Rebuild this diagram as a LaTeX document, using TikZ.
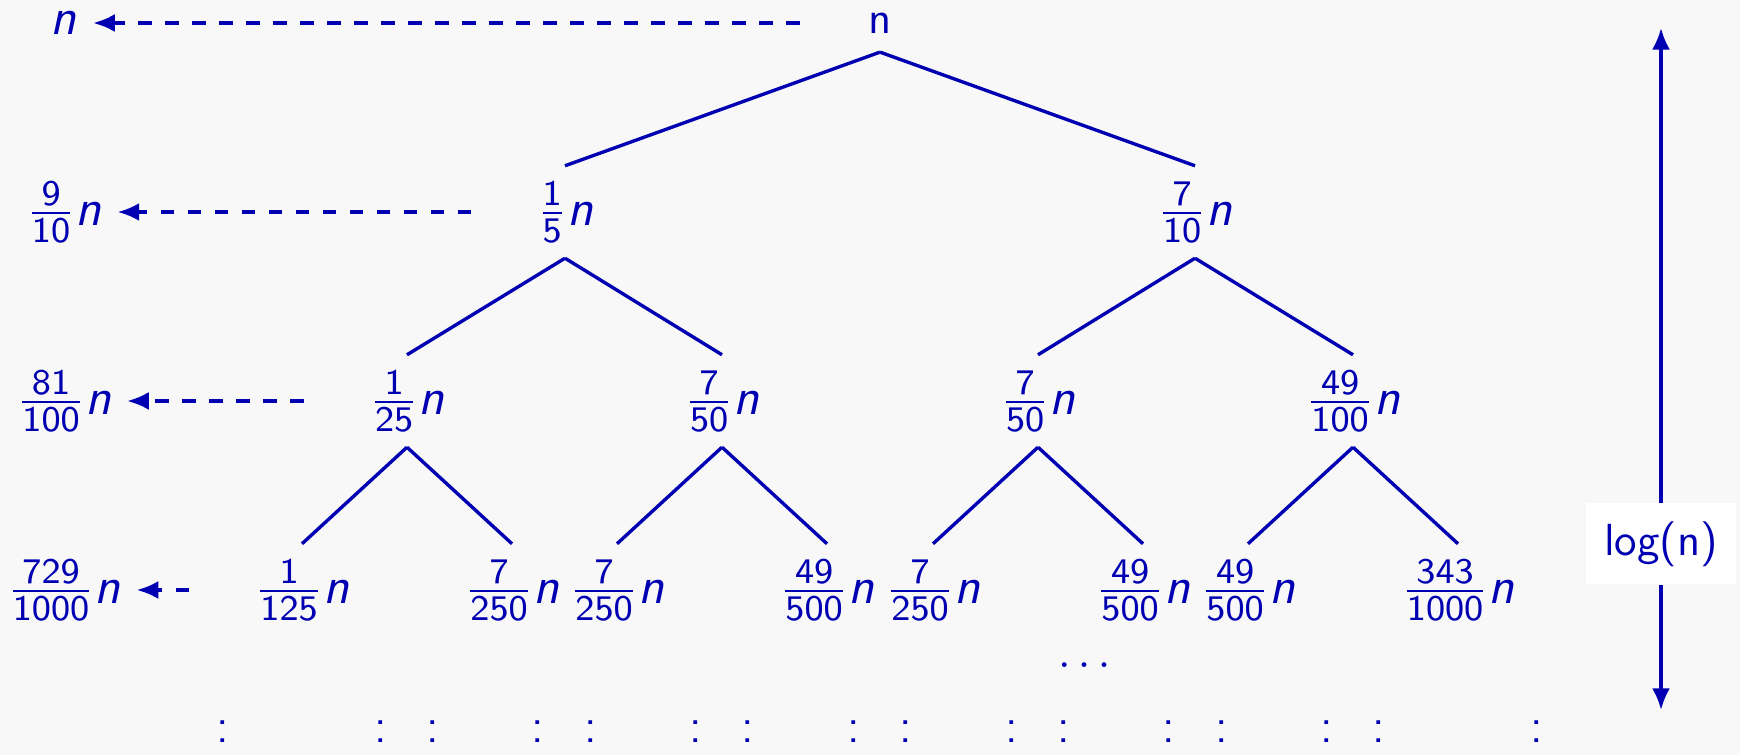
\documentclass[tikz,border=0pt]{standalone}
\usepackage{amsmath}
\usetikzlibrary{
    arrows.meta,
    positioning
}
\definecolor{treeblue}{RGB}{0,0,178}
\definecolor{slidebg}{RGB}{248,248,248}
\newcommand{\share}[2]{$\frac{\mathsf{#1}}{\mathsf{#2}}\textsl{n}$}

\begin{document}
\begin{tikzpicture}[
    x=0.2222pt,
    y=-0.2222pt,
    font=\sffamily,
    every node/.style={
        text=treeblue,
        inner sep=4pt
    },
    part/.style={
        font=\sffamily\fontsize{11.4pt}{14pt}\selectfont,
        inner sep=3.4pt
    },
    branch/.style={
        draw=treeblue,
        line width=0.75pt
    },
    levelsum/.style={
        draw=treeblue,
        line width=0.75pt,
        dashed,
        -{Latex[length=4.8pt,width=4pt]},
        shorten <=11pt
    },
    depth/.style={
        draw=treeblue,
        line width=0.75pt,
        -{Latex[length=4.8pt,width=4pt]}
    }
]

\fill[slidebg] (0,0) rectangle (1740,755);
\useasboundingbox (0,0) rectangle (1740,755);

% the tree
\node (root) at (880,23) {n};

\node[part] (a1) at (565,212) {\share{1}{5}};
\node[part] (a2) at (1195,212) {\share{7}{10}};

\node[part] (b1) at (407,401) {\share{1}{25}};
\node[part] (b2) at (722,401) {\share{7}{50}};
\node[part] (b3) at (1038,401) {\share{7}{50}};
\node[part] (b4) at (1353,401) {\share{49}{100}};

\node[part] (c1) at (302,590) {\share{1}{125}};
\node[part] (c2) at (512,590) {\share{7}{250}};
\node[part] (c3) at (617,590) {\share{7}{250}};
\node[part] (c4) at (827,590) {\share{49}{500}};
\node[part] (c5) at (933,590) {\share{7}{250}};
\node[part] (c6) at (1143,590) {\share{49}{500}};
\node[part] (c7) at (1248,590) {\share{49}{500}};
\node[part] (c8) at (1458,590) {\share{343}{1000}};

\draw[branch] (root.south) -- (a1.north);
\draw[branch] (root.south) -- (a2.north);
\draw[branch] (a1.south) -- (b1.north);
\draw[branch] (a1.south) -- (b2.north);
\draw[branch] (a2.south) -- (b3.north);
\draw[branch] (a2.south) -- (b4.north);
\draw[branch] (b1.south) -- (c1.north);
\draw[branch] (b1.south) -- (c2.north);
\draw[branch] (b2.south) -- (c3.north);
\draw[branch] (b2.south) -- (c4.north);
\draw[branch] (b3.south) -- (c5.north);
\draw[branch] (b3.south) -- (c6.north);
\draw[branch] (b4.south) -- (c7.north);
\draw[branch] (b4.south) -- (c8.north);

% deeper levels
\node (more) at (1088,665) {$\dots$};
\foreach \i/\x in {1/223,2/381,3/433,4/591,5/538,6/696,7/748,8/906,
                   9/854,10/1012,11/1064,12/1222,13/1169,14/1327,15/1379,16/1537}
    \node (v\i) at (\x,727) {$\vdots$};

% sums per level
\node[part] (s0) at (64,23) {\textsl{n}};
\node[part] (s1) at (64,212) {\share{9}{10}};
\node[part] (s2) at (64,401) {\share{81}{100}};
\node[part] (s3) at (64,590) {\share{729}{1000}};

\draw[levelsum] (root.west) -- (s0.east);
\draw[levelsum] (a1.west) -- (s1.east);
\draw[levelsum] (b1.west) -- (s2.east);
\draw[levelsum] (c1.west) -- (s3.east);

% height of the tree
\coordinate (dtop) at (1661,28);
\coordinate (dbot) at (1661,710);
\node[fill=white] (height) at (1661,544) {log(n)};
\draw[depth] (height) -- (dtop);
\draw[depth] (height) -- (dbot);

\end{tikzpicture}
\end{document}
